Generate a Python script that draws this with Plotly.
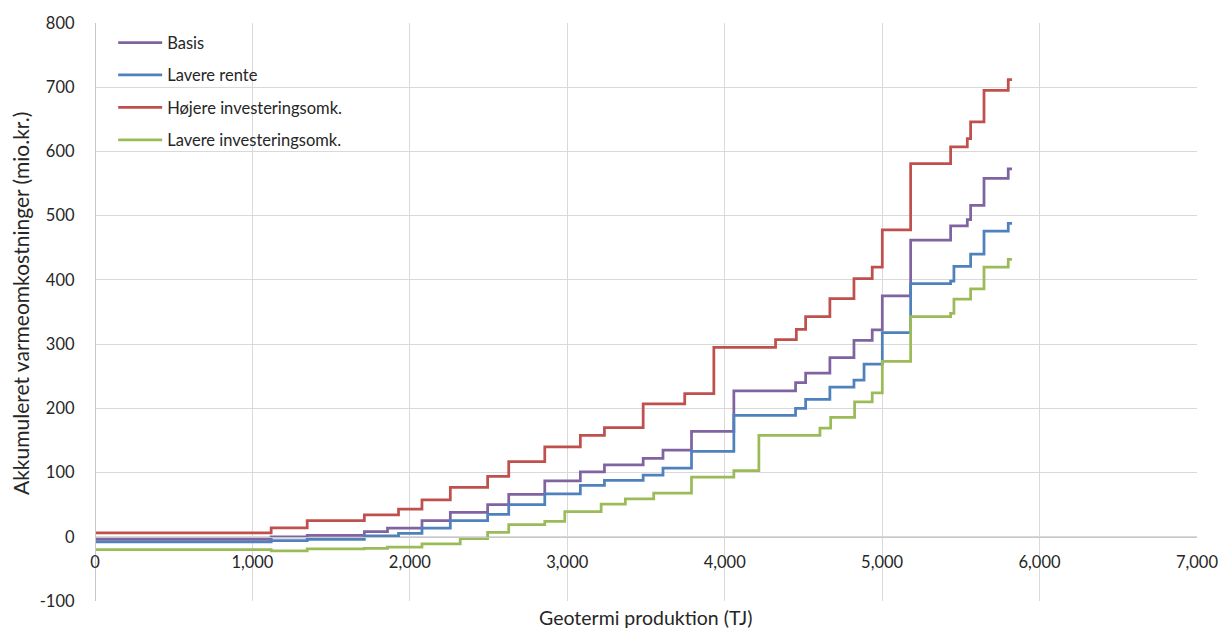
import plotly.graph_objects as go

# step-kurver: produktion (TJ) og akkumuleret omkostning (mio.kr.)
basis_x = [0, 1119, 1348, 1711, 1858, 2077, 2257, 2494, 2628, 2857, 3083, 3236, 3482, 3608, 3789,
           4058, 4450, 4514, 4668, 4821, 4937, 5001, 5181, 5435, 5541, 5562, 5647, 5801, 5825]
basis_y = [-4, 0, 2, 8, 13.5, 25, 38, 50, 66, 87, 101, 112, 122, 135, 164,
           227, 240, 255, 279, 306, 322, 375, 462, 484, 494, 516, 558, 573, 573]

rente_x = [0, 1119, 1348, 1711, 1928, 2077, 2257, 2494, 2628, 2857, 3083, 3236, 3482, 3608, 3789,
           4058, 4450, 4514, 4668, 4821, 4885, 5001, 5181, 5435, 5456, 5562, 5647, 5801, 5825]
rente_y = [-8, -6, -4, 1.5, 5.5, 13.5, 25, 35, 50, 67, 80, 88, 96, 107, 133,
           189, 200, 214, 233, 244, 269, 318, 394, 398, 421, 440, 476, 488, 488]

hoejere_x = [0, 1119, 1348, 1711, 1928, 2077, 2257, 2494, 2628, 2857, 3083, 3236, 3482, 3746, 3931,
             4323, 4455, 4514, 4668, 4821, 4937, 5001, 5181, 5435, 5541, 5562, 5647, 5801, 5825]
hoejere_y = [6, 14, 25, 34, 43, 57.5, 77, 94, 117, 140, 158, 170, 207, 223, 295,
             307, 323, 343, 371, 402, 420, 478, 581, 607, 620, 646, 695, 712, 712]

lavere_x = [0, 1119, 1348, 1711, 1858, 2077, 2320, 2494, 2628, 2857, 2984, 3215, 3369, 3549, 3789,
            4058, 4217, 4605, 4673, 4825, 4937, 5001, 5181, 5435, 5456, 5562, 5647, 5801, 5825]
lavere_y = [-20, -22, -19, -18, -16, -11, -3, 7, 19, 24, 39, 51, 59, 68, 93,
            103, 158, 169, 186, 210, 224, 273, 343, 348, 370, 386, 420, 432, 432]

y_ticks = [-100, 0, 100, 200, 300, 400, 500, 600, 700, 800]
y_labels = ["-100", "0", "100", "200", "300", "400", "500", "600", "700", "800"]

series = [
    ("Basis", basis_x, basis_y, "#8064A2"),
    ("Lavere rente", rente_x, rente_y, "#4F81BD"),
    ("Højere investeringsomk.", hoejere_x, hoejere_y, "#C0504D"),
    ("Lavere investeringsomk.", lavere_x, lavere_y, "#9BBB59"),
]

fig = go.Figure()
for i, (name, xs, ys, col) in enumerate(series):
    fig.add_trace(go.Scatter(x=xs, y=ys, name=name, mode="lines", line_shape="hv",
                             line=dict(color=col, width=2.75), legendgroup=str(i)))

txt = "#262626"
fig.update_layout(
    width=1222, height=632,
    margin=dict(l=95, r=25, t=23, b=31),
    plot_bgcolor="white", paper_bgcolor="white",
    font=dict(family="Lato, 'Noto Sans', sans-serif", size=16.5, color=txt),
    showlegend=True,
    legend=dict(x=0.0165, y=0.996, xanchor="left", yanchor="top", bgcolor="rgba(255,255,255,0)",
                traceorder="grouped", tracegroupgap=8, itemwidth=44, font=dict(size=16.5)),
    xaxis=dict(range=[0, 7000], dtick=1000, tickformat=",.0f", anchor="free", position=100 / 900,
               automargin=False,
               showgrid=True, gridcolor="#D9D9D9", gridwidth=1.3, zeroline=False,
               showline=True, linecolor="#C8C8C8", linewidth=1.3,
               ticks="outside", ticklen=10, tickcolor="rgba(0,0,0,0)"),
    yaxis=dict(range=[-100, 800], tickvals=y_ticks, ticktext=y_labels, anchor="free", position=0,
               automargin=False,
               showgrid=True, gridcolor="#D9D9D9", gridwidth=1.3, zeroline=False,
               showline=True, linecolor="#C8C8C8", linewidth=1.3,
               ticks="outside", ticklen=17, tickcolor="rgba(0,0,0,0)"),
    annotations=[
        dict(text="Geotermi produktion (TJ)", xref="paper", yref="paper", x=0.5, y=-17 / 578,
             xanchor="center", yanchor="middle", showarrow=False, font=dict(size=19.5)),
        dict(text="Akkumuleret varmeomkostninger (mio.kr.)", xref="paper", yref="paper",
             x=-75 / 1102, y=(601 - 304) / 578, xanchor="center", yanchor="middle",
             textangle=-90, showarrow=False, font=dict(size=21)),
    ],
)

# no body margin, so the figure sits at the window's corner
fig.write_html("out.html", config={"displayModeBar": False},
               post_script="document.body.style.margin='0';")
